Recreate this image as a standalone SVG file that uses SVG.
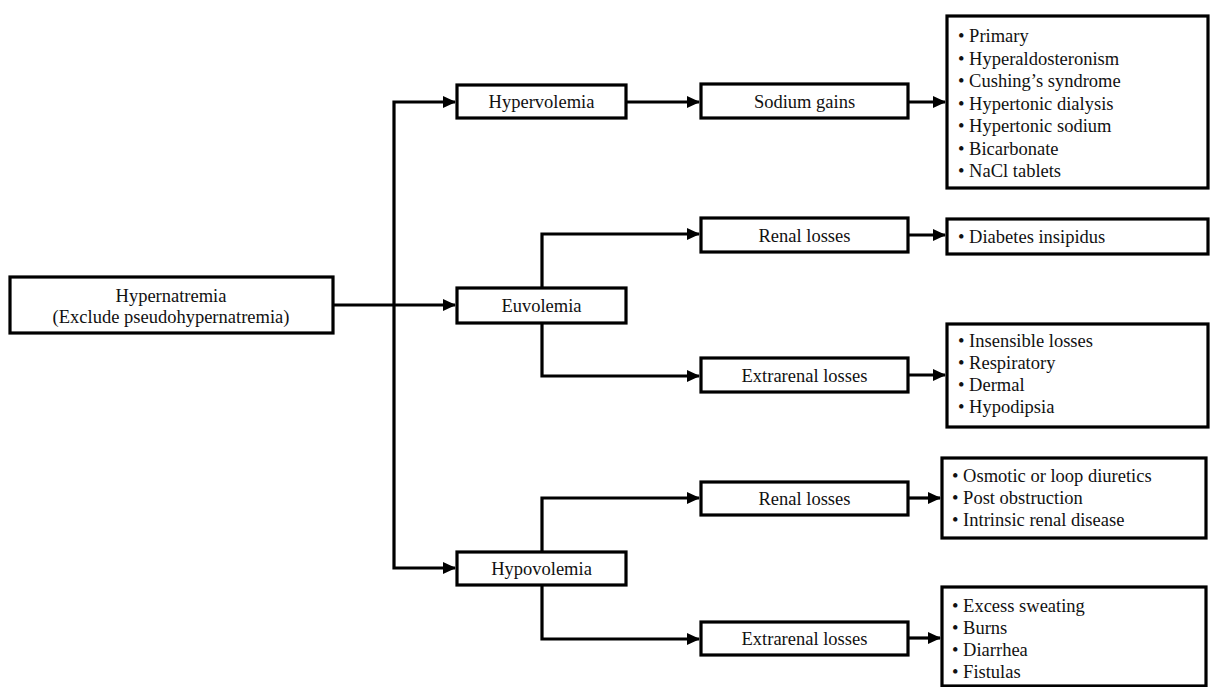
<svg xmlns="http://www.w3.org/2000/svg" width="1211" height="687" viewBox="0 0 1211 687">
<style>
.box{fill:#fff;stroke:#000;stroke-width:3.2}
.t{font-family:"Liberation Serif","Times New Roman",serif;font-size:18.5px;fill:#111}
.c{text-anchor:middle}
.ln{fill:none;stroke:#000;stroke-width:3.2}
</style>
<defs>
<marker id="arr" markerUnits="userSpaceOnUse" markerWidth="13" markerHeight="13" viewBox="0 0 13 13" refX="12" refY="6.5" orient="auto"><path d="M0,0.5 L13,6.5 L0,12.5 z" fill="#000"/></marker>
</defs>
<rect width="1211" height="687" fill="#fff"/>
<g id="connectors">
<path class="ln" d="M333,305 H455" marker-end="url(#arr)"/>
<path class="ln" d="M394,305 V102 H455" marker-end="url(#arr)"/>
<path class="ln" d="M394,305 V568 H455" marker-end="url(#arr)"/>
<path class="ln" d="M626,102 H699" marker-end="url(#arr)"/>
<path class="ln" d="M908,102 H945" marker-end="url(#arr)"/>
<path class="ln" d="M542,288 V234 H699" marker-end="url(#arr)"/>
<path class="ln" d="M542,323 V376 H699" marker-end="url(#arr)"/>
<path class="ln" d="M908,235 H945" marker-end="url(#arr)"/>
<path class="ln" d="M908,375 H945" marker-end="url(#arr)"/>
<path class="ln" d="M542,552 V498 H699" marker-end="url(#arr)"/>
<path class="ln" d="M542,585 V639 H699" marker-end="url(#arr)"/>
<path class="ln" d="M908,498 H940" marker-end="url(#arr)"/>
<path class="ln" d="M908,638 H940" marker-end="url(#arr)"/>
</g>
<g id="root">
<rect class="box" x="10" y="277" width="323" height="56"/>
<text class="t c" x="171" y="302">Hypernatremia</text>
<text class="t c" x="171" y="323">(Exclude pseudohypernatremia)</text>
</g>
<g id="hypervolemia">
<rect class="box" x="457" y="85" width="169" height="33"/>
<text class="t c" x="541.5" y="108">Hypervolemia</text>
</g>
<g id="sodium-gains">
<rect class="box" x="701" y="84" width="207" height="34"/>
<text class="t c" x="804.5" y="107.5">Sodium gains</text>
</g>
<g id="sodium-causes">
<rect class="box" x="947" y="16" width="261" height="172"/>
<text class="t" x="958" y="42">• Primary</text>
<text class="t" x="958" y="64.5">• Hyperaldosteronism</text>
<text class="t" x="958" y="87">• Cushing’s syndrome</text>
<text class="t" x="958" y="109.5">• Hypertonic dialysis</text>
<text class="t" x="958" y="132">• Hypertonic sodium</text>
<text class="t" x="958" y="154.5">• Bicarbonate</text>
<text class="t" x="958" y="177">• NaCl tablets</text>
</g>
<g id="euvolemia">
<rect class="box" x="457" y="288" width="169" height="35"/>
<text class="t c" x="541.5" y="312">Euvolemia</text>
</g>
<g id="eu-renal">
<rect class="box" x="701" y="218" width="207" height="34"/>
<text class="t c" x="804.5" y="241.5">Renal losses</text>
</g>
<g id="eu-renal-causes">
<rect class="box" x="947" y="219" width="261" height="35"/>
<text class="t" x="958" y="242.5">• Diabetes insipidus</text>
</g>
<g id="eu-extrarenal">
<rect class="box" x="701" y="358" width="207" height="34"/>
<text class="t c" x="804.5" y="381.5">Extrarenal losses</text>
</g>
<g id="eu-extrarenal-causes">
<rect class="box" x="947" y="324" width="261" height="103"/>
<text class="t" x="958" y="347">• Insensible losses</text>
<text class="t" x="958" y="369">• Respiratory</text>
<text class="t" x="958" y="391">• Dermal</text>
<text class="t" x="958" y="413">• Hypodipsia</text>
</g>
<g id="hypovolemia">
<rect class="box" x="457" y="552" width="169" height="33"/>
<text class="t c" x="541.5" y="575">Hypovolemia</text>
</g>
<g id="hypo-renal">
<rect class="box" x="701" y="482" width="207" height="33"/>
<text class="t c" x="804.5" y="505">Renal losses</text>
</g>
<g id="hypo-renal-causes">
<rect class="box" x="942" y="458" width="264" height="80"/>
<text class="t" x="952" y="482">• Osmotic or loop diuretics</text>
<text class="t" x="952" y="504">• Post obstruction</text>
<text class="t" x="952" y="526">• Intrinsic renal disease</text>
</g>
<g id="hypo-extrarenal">
<rect class="box" x="701" y="622" width="207" height="33"/>
<text class="t c" x="804.5" y="645">Extrarenal losses</text>
</g>
<g id="hypo-extrarenal-causes">
<rect class="box" x="942" y="587" width="264" height="99"/>
<text class="t" x="952" y="612">• Excess sweating</text>
<text class="t" x="952" y="634">• Burns</text>
<text class="t" x="952" y="656">• Diarrhea</text>
<text class="t" x="952" y="678">• Fistulas</text>
</g>
</svg>
